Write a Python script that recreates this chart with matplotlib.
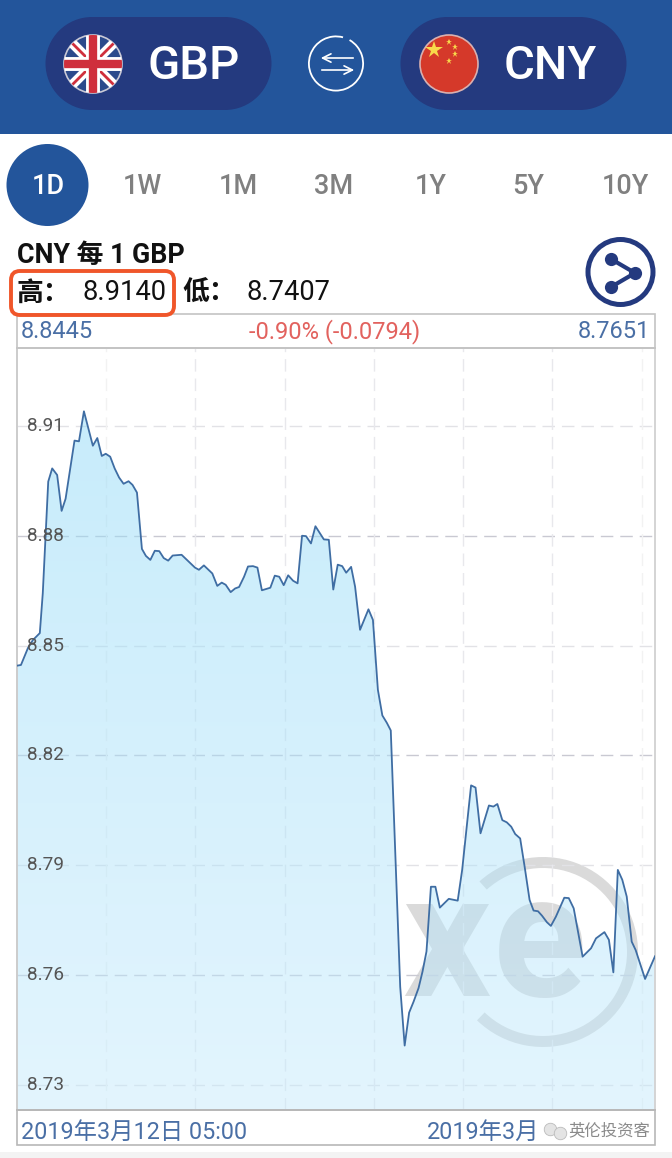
import numpy as np
import matplotlib
matplotlib.use('Agg')
import matplotlib.pyplot as plt
from matplotlib.patches import Circle, FancyBboxPatch, Wedge, Rectangle, Polygon

# minutes since the start of the 1D window
minutes = [0, 8, 22, 32, 46, 52, 63, 71, 81, 90, 98, 116, 125, 135, 153, 162, 171, 179, 188, 197,
           206, 215, 225, 233, 242, 252, 260, 269, 278, 287, 296, 305, 314, 332, 359, 367, 377, 394,
           404, 413, 421, 431, 440, 448, 458, 466, 476, 485, 494, 511, 520, 529, 538, 547, 557, 566,
           575, 583, 593, 602, 619, 629, 638, 647, 656, 664, 674, 682, 692, 709, 718, 728, 737, 746,
           754, 773, 782, 791, 800, 810, 818, 826, 835, 844, 853, 871, 889, 898, 916, 925, 935, 952,
           961, 969, 979, 988, 997, 1005, 1015, 1024, 1034, 1042, 1051, 1059, 1069, 1077, 1087, 1104,
           1113, 1123, 1141, 1158, 1168, 1185, 1194, 1203, 1212, 1221, 1230, 1240, 1248, 1267, 1287]
rates = [8.8445, 8.8447, 8.8493, 8.8515, 8.8534, 8.8643, 8.8948, 8.8984, 8.8966, 8.8868, 8.8901,
         8.9060, 8.9058, 8.9140, 8.9046, 8.9067, 8.9018, 8.9024, 8.9016, 8.8984, 8.8959, 8.8942,
         8.8949, 8.8939, 8.8918, 8.8764, 8.8745, 8.8734, 8.8759, 8.8758, 8.8739, 8.8732, 8.8746,
         8.8748, 8.8713, 8.8707, 8.8719, 8.8697, 8.8663, 8.8672, 8.8666, 8.8646, 8.8656, 8.8660,
         8.8688, 8.8716, 8.8717, 8.8713, 8.8651, 8.8658, 8.8691, 8.8688, 8.8665, 8.8692, 8.8677,
         8.8670, 8.8800, 8.8799, 8.8779, 8.8826, 8.8790, 8.8789, 8.8653, 8.8721, 8.8717, 8.8699,
         8.8715, 8.8661, 8.8543, 8.8599, 8.8570, 8.8379, 8.8309, 8.8289, 8.8268, 8.7568, 8.7407,
         8.7497, 8.7527, 8.7564, 8.7609, 8.7664, 8.7841, 8.7841, 8.7784, 8.7808, 8.7803, 8.7887,
         8.8118, 8.8112, 8.7987, 8.8063, 8.8060, 8.8067, 8.8023, 8.8017, 8.8005, 8.7985, 8.7973,
         8.7896, 8.7805, 8.7776, 8.7774, 8.7762, 8.7744, 8.7734, 8.7759, 8.7811, 8.7810, 8.7782,
         8.7650, 8.7673, 8.7700, 8.7717, 8.7696, 8.7607, 8.7887, 8.7860, 8.7814, 8.7691, 8.7668,
         8.7589, 8.7651]
y_ticks = [8.73, 8.76, 8.79, 8.82, 8.85, 8.88, 8.91]
x_grid = [180, 360, 540, 720, 900, 1080, 1260]
tabs = ['1D', '1W', '1M', '3M', '1Y', '5Y', '10Y']
tab_centers = [48, 142, 238, 334, 431, 528, 625]

FONT = ['Roboto', 'Noto Sans CJK SC', 'DejaVu Sans']
CJK = ['Noto Sans CJK SC', 'DejaVu Sans']
W, H = 672, 1158
BLUE = '#23559b'
NAVY = '#243a7f'
TXT_BLUE = '#4a6fa5'

fig = plt.figure(figsize=(W / 100, H / 100), dpi=100)

# page in pixel coordinates, y down
bg = fig.add_axes([0, 0, 1, 1], zorder=0)
bg.set_xlim(0, W)
bg.set_ylim(H, 0)
bg.axis('off')

bg.add_patch(Rectangle((0, 0), W, 134, color=BLUE, lw=0))
bg.add_patch(Rectangle((0, 1152), W, 6, color='#f3f3f3', lw=0))


def pill(x0, x1):
    bg.add_patch(Rectangle((x0 + 46, 17), x1 - x0 - 92, 93, color=NAVY, lw=0))
    bg.add_patch(Circle((x0 + 46, 63.5), 46.5, color=NAVY, lw=0))
    bg.add_patch(Circle((x1 - 46, 63.5), 46.5, color=NAVY, lw=0))


pill(46, 271)
pill(401, 626)

# uk flag
uk = Circle((93, 64), 29, fc='#2b4a8c', ec='#c9c9d6', lw=1.2, zorder=3)
bg.add_patch(uk)
for (xs, ys, c, lw) in [([64, 122], [35, 93], 'white', 7), ([64, 122], [93, 35], 'white', 7),
                        ([64, 122], [35, 93], '#cf2f3c', 2), ([64, 122], [93, 35], '#cf2f3c', 2),
                        ([93, 93], [35, 93], 'white', 10), ([64, 122], [64, 64], 'white', 10),
                        ([93, 93], [35, 93], '#cf2f3c', 6), ([64, 122], [64, 64], '#cf2f3c', 6)]:
    ln, = bg.plot(xs, ys, color=c, lw=lw, zorder=4, solid_capstyle='butt')
    ln.set_clip_path(uk)

# china flag
bg.add_patch(Circle((449, 64), 29, fc='#d5392a', ec='#d9b0b0', lw=1.2, zorder=3))
bg.plot([434], [50], marker='*', ms=13, color='#f8d84a', mew=0, zorder=4)
bg.plot([449, 455, 455, 449], [42, 47, 54, 61], ls='', marker='*', ms=4.5, color='#f8d84a', mew=0, zorder=4)

bg.text(194, 66, 'GBP', color='white', fontsize=34, family=FONT, weight='medium', ha='center', va='center', zorder=4)
bg.text(550, 66, 'CNY', color='white', fontsize=34, family=FONT, weight='medium', ha='center', va='center', zorder=4)

# swap icon
bg.add_patch(Wedge((336, 63.5), 28, -60, 285, width=1.8, color='white', lw=0))
bg.annotate('', xy=(318, 58), xytext=(356, 58), arrowprops=dict(arrowstyle='->', color='white', lw=1.2, mutation_scale=15))
bg.annotate('', xy=(357, 70), xytext=(319, 70), arrowprops=dict(arrowstyle='->', color='white', lw=1.2, mutation_scale=15))

# range tabs
bg.add_patch(Circle((47.5, 185), 41, color=BLUE, lw=0))
for name, cx in zip(tabs, tab_centers):
    col = 'white' if name == '1D' else '#808080'
    bg.text(cx, 187, name, color=col, fontsize=19.5, family=FONT, weight='medium', ha='center', va='center')

# title rows
bg.text(17, 255.5, 'CNY 每 1 GBP', fontsize=19.3, family=FONT, weight='bold', ha='left', va='center', color='#111111')
bg.text(17, 293, '高：', fontsize=19.3, family=CJK, weight='bold', ha='left', va='center', color='#111111')
bg.text(82, 293, '8.9140', fontsize=19.7, family=FONT, ha='left', va='center', color='#111111')
bg.text(182, 293, '低：', fontsize=19.3, family=CJK, weight='bold', ha='left', va='center', color='#111111')
bg.text(247, 293, '8.7407', fontsize=19.7, family=FONT, ha='left', va='center', color='#111111')

# share icon
bg.add_patch(Circle((620.5, 272), 32.5, fc='none', ec=NAVY, lw=3.6))
bg.plot([611, 635, 611], [259, 273, 287], color=NAVY, lw=3, marker='o', ms=9.5, mew=0)

# header and footer boxes of the chart
bg.add_patch(Rectangle((17, 314), 638, 34, fc='white', ec='#c4c4c4', lw=1.2))
bg.add_patch(Rectangle((17, 1110), 638, 35, fc='white', ec='#b8b8b8', lw=1.2))
bg.add_patch(FancyBboxPatch((11, 271), 163, 44, boxstyle='round,pad=0,rounding_size=9', fc='none', ec='#f0562a', lw=2.8, zorder=5))
bg.text(21, 331.5, '8.8445', color=TXT_BLUE, fontsize=17, family=FONT, va='center')
bg.text(335, 331.5, '-0.90% (-0.0794)', color='#e2625e', fontsize=17, family=FONT, va='center', ha='center')
bg.text(650, 331.5, '8.7651', color=TXT_BLUE, fontsize=17, family=FONT, va='center', ha='right')
bg.text(21, 1132, '2019年3月12日 05:00', color=TXT_BLUE, fontsize=16.8, family=FONT, va='center')
bg.text(427, 1132, '2019年3月', color=TXT_BLUE, fontsize=16.8, family=FONT, va='center')
bg.plot([550, 560], [1129, 1133], ls='', marker='o', ms=9, color='#e4e4e4', mec='#bbbbbb', mew=0.6, zorder=5)
bg.text(650, 1131, '英伦投资客', color='#8a8a8a', fontsize=11.8, family=CJK, va='center', ha='right', zorder=5)

# xe watermark sits behind the translucent area
WM = '#dadada'
bg.add_patch(Wedge((543, 952), 95, -132, 134, width=11, color=WM, lw=0))
bg.text(446, 948, 'x', color=WM, fontsize=125, family=['Roboto'], weight='bold', ha='center', va='center')
bg.text(540, 948, 'e', color=WM, fontsize=125, family=['Roboto'], weight='bold', ha='center', va='center')

# chart
ax = fig.add_axes([17 / W, 1 - 1110 / H, 638 / W, 762 / H], zorder=1)
ax.patch.set_visible(False)

for v in y_ticks:
    strong = v in (8.76, 8.82, 8.88)
    ax.axhline(v, color='#c9c9d2' if strong else '#e2e2e6', lw=1, dashes=(9, 5), zorder=1)
for t in x_grid:
    ax.axvline(t, color='#f2f2f2' if t in (180, 1260) else '#e8e8ec', lw=1, dashes=(9, 5), zorder=1)

ymin, ymax = 8.7231, 8.9313
grad = np.zeros((256, 2, 4))
frac = np.linspace(0, 1, 256)[:, None]
grad[:, :, 0] = 0.56 + 0.22 * frac
grad[:, :, 1] = 0.85 + 0.07 * frac
grad[:, :, 2] = 0.97 + 0.02 * frac
grad[:, :, 3] = 0.5
im = ax.imshow(grad, extent=[0, 1287, ymin, 8.92], origin='upper', aspect='auto', zorder=2)
clip = Polygon(np.column_stack([[0] + minutes + [1287], [ymin] + rates + [ymin]]), closed=True,
               transform=ax.transData, fc='none', ec='none')
ax.add_patch(clip)
im.set_clip_path(clip)

ax.plot(minutes, rates, color='#3f6da3', lw=1.3, zorder=3)

for v in y_ticks:
    ax.text(0.016, v, '%.2f' % v, transform=ax.get_yaxis_transform(), color='#555555', fontsize=13.7,
            family=FONT, va='center', zorder=5)

ax.set_xlim(0, 1287)
ax.set_ylim(ymin, ymax)
ax.set_xticks([])
ax.set_yticks([])
for side, c in [('left', '#cccccc'), ('right', '#d4d4d4'), ('top', '#c4c4c4'), ('bottom', '#b8b8b8')]:
    ax.spines[side].set_color(c)
    ax.spines[side].set_linewidth(1.4)

fig.savefig('out.png', dpi=100)
